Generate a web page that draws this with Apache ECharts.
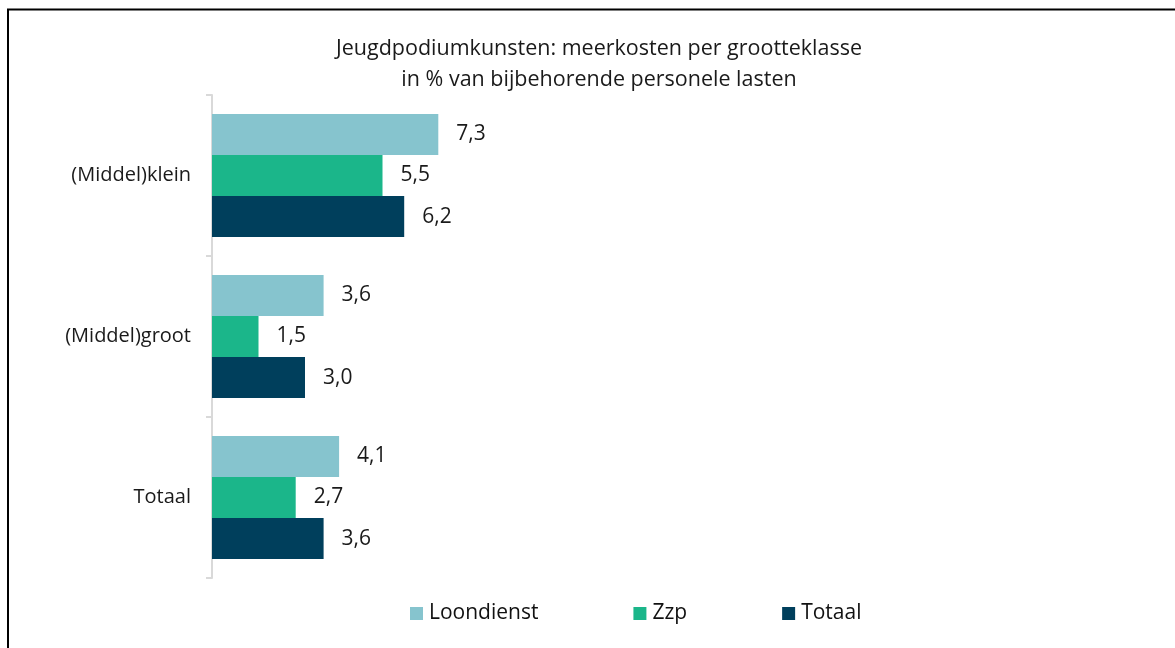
<!DOCTYPE html>
<html><head><meta charset="utf-8">
<script src="https://cdn.jsdelivr.net/npm/echarts@6/dist/echarts.min.js"></script>
<style>html,body{margin:0;padding:0;background:#fff}#c{width:1175px;height:648px}</style>
</head><body><div id="c"></div>
<script>
const categories = ['(Middel)klein', '(Middel)groot', 'Totaal'];
const loondienst = [7.3, 3.6, 4.1];
const zzp = [5.5, 1.5, 2.7];
const totaal = [6.2, 3.0, 3.6];
const seriesNames = ['Loondienst', 'Zzp', 'Totaal'];
const colors = ['#86C4CE', '#1BB68A', '#003F5C'];
const titleText = 'Jeugdpodiumkunsten: meerkosten per grootteklasse\nin % van bijbehorende personele lasten';
const FONT = '"Open Sans", "Noto Sans", sans-serif';

const chart = echarts.init(document.getElementById('c'));
const dataSets = [loondienst, zzp, totaal];
chart.setOption({
  animation: false,
  textStyle: {fontFamily: FONT},
  graphic: [{type: 'rect', shape: {x: 8, y: 9.5, width: 1200, height: 700}, style: {fill: 'none', stroke: '#000', lineWidth: 2}}],
  title: {text: titleText, left: 594, textAlign: 'center', top: 28,
    textStyle: {fontFamily: FONT, fontSize: 21.5, fontWeight: 'normal', color: '#1a1a1a', lineHeight: 31}},
  legend: {left: 405, top: 598, itemWidth: 13, itemHeight: 13, itemGap: 95, icon: 'rect',
    textStyle: {fontFamily: FONT, fontSize: 21, color: '#111', padding: [0, 0, 0, 1]},
    data: seriesNames},
  grid: {left: 212, right: 33, top: 95, bottom: 70, containLabel: false},
  xAxis: {type: 'value', min: 0, max: 30, show: false},
  yAxis: {type: 'category', data: categories, inverse: true,
    axisLine: {lineStyle: {color: '#d9d9d9', width: 2}},
    axisTick: {show: true, length: 6, lineStyle: {color: '#d9d9d9', width: 2}},
    axisLabel: {fontFamily: FONT, fontSize: 20, color: '#1a1a1a', margin: 21}},
  series: dataSets.map((d, i) => ({
    name: seriesNames[i], type: 'bar', data: d, barGap: '0%', barCategoryGap: '23.5%',
    itemStyle: {color: colors[i]},
    label: {show: true, position: 'right', distance: 18, fontFamily: FONT, fontSize: 21, color: '#1a1a1a',
      formatter: p => p.value.toFixed(1).replace('.', ',')}
  }))
});
</script></body></html>
